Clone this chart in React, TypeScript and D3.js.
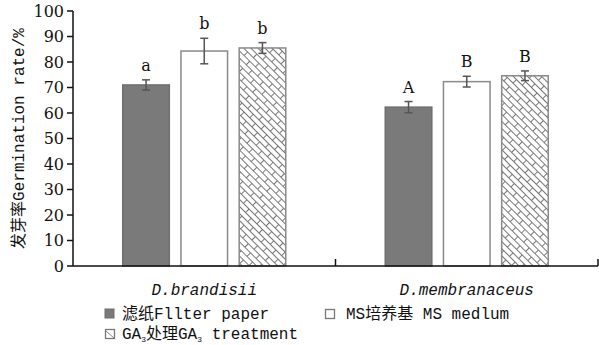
import React from 'react';
import * as d3 from 'd3';

const W = 599;
const H = 345;
const MARGIN = { top: 11, right: 1, bottom: 79, left: 73 };

// data
const species = ['D.brandisii', 'D.membranaceus'];
const treatments = ['filter', 'ms', 'ga3'];
const means = [
  [71.0, 84.3, 85.5],
  [62.3, 72.3, 74.6],
];
const errors = [
  [2.0, 5.0, 2.1],
  [2.2, 2.1, 1.9],
];
const letters = [
  ['a', 'b', 'b'],
  ['A', 'B', 'B'],
];
const yTicks = [0, 10, 20, 30, 40, 50, 60, 70, 80, 90, 100];

const SERIF = '"DejaVu Serif", serif';
const MONO = '"Liberation Mono", "Noto Sans CJK SC", monospace';

export default function App() {
  const innerW = W - MARGIN.left - MARGIN.right;
  const innerH = H - MARGIN.top - MARGIN.bottom;

  const x0 = d3.scaleBand().domain(species).range([0, innerW]).padding(0);
  const x1 = d3.scaleBand().domain(treatments)
    .range([x0.bandwidth() / 2 - 81.5, x0.bandwidth() / 2 + 81.5])
    .paddingInner(0.2).paddingOuter(0);
  const y = d3.scaleLinear().domain([0, 100]).range([innerH, 0]);

  const fillFor = (t: string) => t === 'filter' ? '#7a7a7a' : t === 'ms' ? '#ffffff' : 'url(#brick)';
  const strokeFor = (t: string) => t === 'filter' ? '#6e6e6e' : '#8a8a8a';

  return (
    <svg width={W} height={H} style={{ position: 'absolute', left: 0, top: 0, background: '#fff' }}>
      <defs>
        <pattern id="brick" patternUnits="userSpaceOnUse" width="16" height="10" patternTransform="rotate(45)">
          <rect width="16" height="10" fill="#fff" />
          <g stroke="#777" strokeWidth="1">
            <line x1="0" y1="0.5" x2="16" y2="0.5" />
            <line x1="0" y1="5.5" x2="16" y2="5.5" />
            <line x1="0.5" y1="0" x2="0.5" y2="5.5" />
            <line x1="8.5" y1="5.5" x2="8.5" y2="10" />
          </g>
        </pattern>
      </defs>
      <g transform={`translate(${MARGIN.left},${MARGIN.top})`}>
        {/* bars */}
        {species.map((s, gi) => (
          <g key={s} transform={`translate(${x0(s)},0)`}>
            {treatments.map((t, ti) => {
              const bx = x1(t)!;
              const bw = x1.bandwidth();
              const v = means[gi][ti];
              const e = errors[gi][ti];
              const cx = bx + bw / 2;
              return (
                <g key={t}>
                  <rect x={bx} y={y(v)} width={bw} height={innerH - y(v)}
                    fill={fillFor(t)} stroke={strokeFor(t)} strokeWidth={1.5} />
                  <g stroke="#555" strokeWidth={1.5}>
                    <line x1={cx} x2={cx} y1={y(v + e)} y2={y(v - e)} />
                    <line x1={cx - 4} x2={cx + 4} y1={y(v + e)} y2={y(v + e)} />
                    <line x1={cx - 4} x2={cx + 4} y1={y(v - e)} y2={y(v - e)} />
                  </g>
                  <text x={cx} y={y(v + e) - 9} textAnchor="middle" fontFamily={SERIF} fontSize={16} fill="#111">
                    {letters[gi][ti]}
                  </text>
                </g>
              );
            })}
          </g>
        ))}

        {/* y axis */}
        <line x1={0} x2={0} y1={0} y2={innerH} stroke="#111" strokeWidth={1.5} />
        {yTicks.map(t => (
          <g key={t} transform={`translate(0,${y(t)})`}>
            <line x1={-6} x2={0} stroke="#111" strokeWidth={1.5} />
            <text x={-9} dy="0.36em" textAnchor="end" fontFamily={SERIF} fontSize={16} fill="#111">{t}</text>
          </g>
        ))}

        {/* x axis */}
        <line x1={0} x2={innerW} y1={innerH} y2={innerH} stroke="#111" strokeWidth={1.5} />
        {species.map(s => (
          <line key={s} x1={x0(s)! + x0.bandwidth()} x2={x0(s)! + x0.bandwidth()} y1={innerH} y2={innerH - 7}
            stroke="#111" strokeWidth={1.5} />
        ))}
        {species.map(s => (
          <text key={s} x={x0(s)! + x0.bandwidth() / 2} y={innerH + 29} textAnchor="middle"
            fontFamily={MONO} fontStyle="italic" fontSize={16} fill="#111">{s}</text>
        ))}

        {/* y label */}
        <text transform={`translate(${18 - MARGIN.left},${innerH / 2}) rotate(-90)`} dy="0.35em"
          textAnchor="middle" fontFamily={MONO} fontSize={16} fill="#111">发芽率Germination rate/%</text>
      </g>

      {/* legend */}
      <g fontFamily={MONO} fontSize={16} fill="#111">
        <rect x={105} y={309} width={9} height={9} fill="#7a7a7a" stroke="#6e6e6e" />
        <text x={122} y={319}>滤纸Fllter paper</text>
        <rect x={325.5} y={309.5} width={9} height={9} fill="#fff" stroke="#777" strokeWidth={1.3} />
        <text x={346} y={319}>MS培养基 MS medlum</text>
        <rect x={105.5} y={329.5} width={9} height={9} fill="#fff" stroke="#777" strokeWidth={1.3} />
        <line x1={106} y1={331} x2={114} y2={338} stroke="#888" />
        <text x={122} y={339}>
          GA<tspan fontSize={8} dy={2.5}>3</tspan><tspan dy={-2.5}>处理GA</tspan><tspan fontSize={8} dy={2.5}>3</tspan><tspan dy={-2.5}> treatment</tspan>
        </text>
      </g>
    </svg>
  );
}
